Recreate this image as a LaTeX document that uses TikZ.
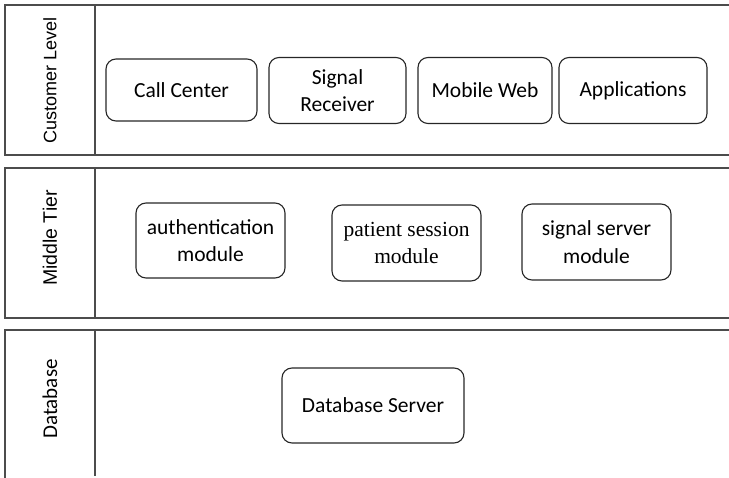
\documentclass[tikz,border=0pt]{standalone}
\usepackage{fontspec}
\setmainfont{Carlito}
\newfontfamily\serifbox{Liberation Serif}
\newfontfamily\arialfont{Liberation Sans}
\begin{document}
\begin{tikzpicture}[x=1pt,y=-1pt,
  lane/.style={draw=black!70, line width=1.4pt},
  comp/.style={draw=black!85, line width=1.1pt, rounded corners=10pt, align=center, inner sep=0pt, font=\fontsize{21.5}{27.5}\selectfont},
  lanelabel/.style={rotate=90, inner sep=0pt}]
\useasboundingbox (0,0) rectangle (729,478);
% lanes
\draw[lane] (729,5) -- (5,5) -- (5,155) -- (729,155);
\draw[lane] (95,5) -- (95,155);
\draw[lane] (729,168) -- (5,168) -- (5,318) -- (729,318);
\draw[lane] (95,168) -- (95,318);
\draw[lane] (729,330) -- (5,330) -- (5,478);
\draw[lane] (95,330) -- (95,476);
% lane labels
\node[lanelabel, font=\arialfont\fontsize{18}{22}\selectfont] (l1) at (50,80) {Customer Level};
\node[lanelabel, font=\arialfont\fontsize{19.5}{22}\selectfont] (l2) at (50,238) {Middle Tier};
\node[lanelabel, font=\fontsize{21}{24}\selectfont] (l3) at (50,399) {Database};
% customer level
\node[comp, minimum width=151pt, minimum height=62pt] (cc) at (181.5,90) {Call Center};
\node[comp, minimum width=137pt, minimum height=66pt] (sr) at (337.5,90.5) {Signal\\Receiver};
\node[comp, minimum width=134pt, minimum height=66pt] (mw) at (485,90.5) {Mobile Web};
\node[comp, minimum width=148pt, minimum height=66pt] (ap) at (633,90.5) {Applications};
% middle tier
\node[comp, minimum width=149pt, minimum height=75pt] (au) at (210.5,240.5) {authentication\\module};
\node[comp, minimum width=149pt, minimum height=76pt, font=\serifbox\fontsize{21.5}{27.5}\selectfont] (ps) at (406.5,243) {patient session\\module};
\node[comp, minimum width=149pt, minimum height=76pt] (ss) at (596.5,242) {signal server\\module};
% database
\node[comp, minimum width=182pt, minimum height=75pt] (db) at (373,405.5) {Database Server};
\end{tikzpicture}
\end{document}
